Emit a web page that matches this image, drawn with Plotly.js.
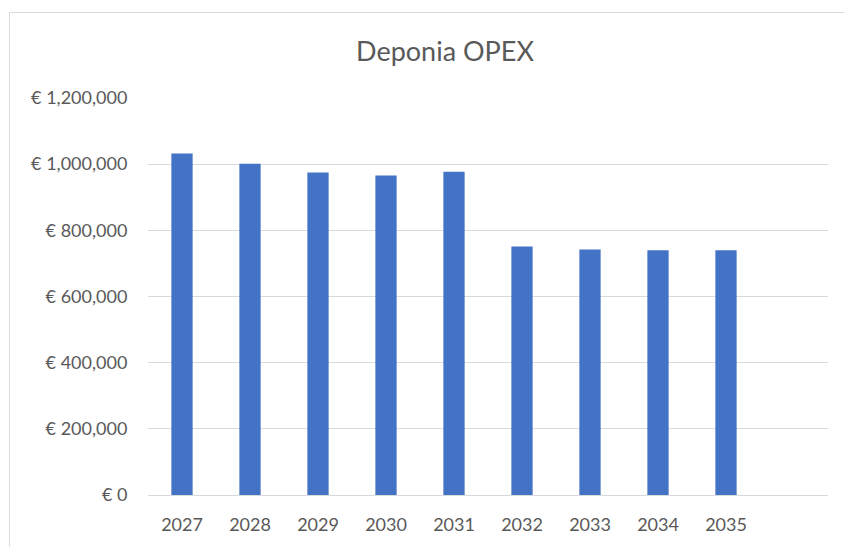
<!DOCTYPE html>
<html>
<head>
<meta charset="utf-8">
<script src="https://cdn.plot.ly/plotly-3.0.1.min.js"></script>
<style>
  html, body { margin: 0; padding: 0; background: #ffffff; overflow: hidden; }
  #frame { position: absolute; left: 9px; top: 12px; width: 900px; height: 600px; border: 1px solid #d9d9d9; box-sizing: border-box; }
  #chart { position: absolute; left: 0; top: 0; width: 844px; height: 546px; }
</style>
</head>
<body>
<div id="frame"></div>
<div id="chart"></div>
<script>
const years = ["2027", "2028", "2029", "2030", "2031", "2032", "2033", "2034", "2035"];
const opex = [1032000, 1001000, 975000, 966000, 977000, 751000, 742000, 740000, 740000];
const yTicks = [0, 200000, 400000, 600000, 800000, 1000000, 1200000];
const yTickLabels = ["€ 0", "€ 200,000", "€ 400,000", "€ 600,000", "€ 800,000", "€ 1,000,000", "€ 1,200,000"];

const trace = {
  type: 'bar',
  x: years,
  y: opex,
  marker: { color: '#4472C4', line: { width: 0 } },
  hoverinfo: 'x+y'
};

const layout = {
  width: 844,
  height: 546,
  paper_bgcolor: 'rgba(0,0,0,0)',
  plot_bgcolor: 'rgba(0,0,0,0)',
  margin: { l: 148, r: 16, t: 98, b: 51, pad: 0 },
  font: { family: 'Lato, "Open Sans", sans-serif', color: '#595959', size: 18 },
  title: {
    text: 'Deponia OPEX',
    font: { family: 'Lato, "Open Sans", sans-serif', size: 27, color: '#595959' },
    xref: 'container', x: 445 / 844, xanchor: 'center',
    yref: 'container', y: 1 - 52 / 546, yanchor: 'middle'
  },
  bargap: 0.687,
  showlegend: false,
  xaxis: {
    type: 'category',
    range: [-0.5, 9.5],
    showgrid: false,
    showline: false,
    zeroline: false,
    ticks: 'outside', ticklen: 13, tickcolor: 'rgba(0,0,0,0)',
    tickfont: { size: 18, color: '#595959' },
    fixedrange: true
  },
  yaxis: {
    range: [0, 1200000],
    tickmode: 'array',
    tickvals: yTicks,
    ticktext: yTickLabels,
    showgrid: true,
    gridcolor: '#d9d9d9',
    gridwidth: 1,
    zeroline: true,
    zerolinecolor: '#d9d9d9',
    zerolinewidth: 1,
    showline: false,
    ticks: 'outside', ticklen: 16, tickcolor: 'rgba(0,0,0,0)',
    tickfont: { size: 18, color: '#595959' },
    fixedrange: true
  }
};

Plotly.newPlot('chart', [trace], layout, { displayModeBar: false, staticPlot: true });
</script>
</body>
</html>
